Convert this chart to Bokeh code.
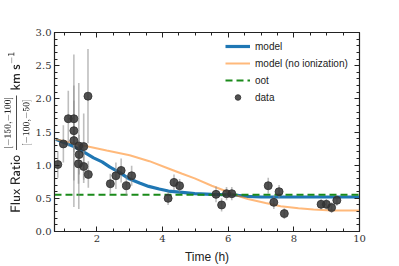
import math
from bokeh.plotting import figure
from bokeh.models import (LinearAxis, FixedTicker, Range1d, Legend, LegendItem,
                          ColumnDataSource, NumeralTickFormatter, CustomJSTickFormatter,
                          CDSView, IndexFilter)
from bokeh.embed import file_html
from bokeh.resources import INLINE

# data points
time_h = [0.81, 0.98, 1.13, 1.30, 1.30, 1.30, 1.45, 1.46, 1.44, 1.60, 1.60, 1.73, 1.74,
          2.41, 2.58, 2.74, 2.90, 3.06, 4.17, 4.35, 4.52,
          5.63, 5.80, 5.95, 6.11, 7.22, 7.39, 7.55, 7.71, 8.83, 8.99, 9.15, 9.31]
flux = [1.01, 1.32, 1.70, 1.70, 1.52, 1.37, 1.29, 1.16, 1.02, 0.98, 1.28, 2.04, 0.86,
        0.72, 0.84, 0.92, 0.69, 0.84, 0.50, 0.74, 0.69,
        0.56, 0.40, 0.57, 0.57, 0.69, 0.44, 0.60, 0.27, 0.41, 0.41, 0.36, 0.47]
flux_err = [0.20, 0.28, 0.42, 0.50, 1.15, 0.60, 0.95, 0.30, 0.30, 0.25, 0.50, 0.71, 0.20,
            0.15, 0.20, 0.18, 0.15, 0.15, 0.10, 0.12, 0.10,
            0.12, 0.10, 0.10, 0.10, 0.12, 0.10, 0.10, 0.08, 0.08, 0.08, 0.08, 0.08]

# model curves
model_t = [0.75, 1.0, 1.3, 1.66, 1.9, 2.16, 2.4, 2.66, 3.0, 3.3, 3.58, 3.9, 4.18, 4.6,
           4.98, 5.5, 6.19, 6.6, 7.0, 8.0, 9.0, 10.0]
model_y = [1.39, 1.34, 1.28, 1.18, 1.11, 1.05, 0.97, 0.90, 0.79, 0.73, 0.68, 0.64, 0.61,
           0.59, 0.57, 0.56, 0.55, 0.53, 0.52, 0.52, 0.52, 0.52]
noion_t = [0.75, 1.2, 1.66, 2.3, 3.0, 3.6, 4.18, 4.6, 4.98, 5.5, 5.98, 6.14, 6.6, 7.14,
           7.6, 8.14, 8.6, 9.15, 10.0]
noion_y = [1.39, 1.34, 1.29, 1.22, 1.15, 1.06, 0.95, 0.87, 0.80, 0.69, 0.60, 0.56, 0.49,
           0.43, 0.38, 0.35, 0.33, 0.315, 0.315]
oot_level = 0.555

x_ticks = [2, 4, 6, 8, 10]
x_minor = [1.0, 1.5, 2.5, 3.0, 3.5, 4.5, 5.0, 5.5, 6.5, 7.0, 7.5, 8.5, 9.0, 9.5]
y_ticks = [0.0, 0.5, 1.0, 1.5, 2.0, 2.5, 3.0]
y_minor = [round(i * 0.1, 1) for i in range(0, 31)]

p = figure(width=399, height=266, output_backend="svg", toolbar_location=None,
           x_range=Range1d(0.71, 10.0), y_range=Range1d(0.0, 3.0),
           min_border_left=50, min_border_right=40, min_border_top=32,
           min_border_bottom=34)
p.grid.visible = False
p.outline_line_color = "#222222"
p.outline_line_width = 1.2

src = ColumnDataSource(dict(x=time_h, y=flux,
                            lo=[a - b for a, b in zip(flux, flux_err)],
                            hi=[a + b for a, b in zip(flux, flux_err)]))

r_model = p.line(model_t, model_y, line_color="#1f77b4", line_width=3.2)
r_noion = p.line(noion_t, noion_y, line_color="#ff7f0e", line_alpha=0.55, line_width=2)
r_oot = p.line([0.71, 10.0], [oot_level, oot_level], line_color="#1a8a1a",
               line_width=2, line_dash="7 4")
r_err = p.segment(x0="x", y0="lo", x1="x", y1="hi", source=src, line_color="#888888",
                  line_alpha=0.55, line_width=1.6)
r_pts = p.scatter("x", "y", source=src, size=8, fill_color="#333333",
                  line_color="#333333", alpha=0.85)
# legend-only vertical error-bar glyph (filtered out of the plot itself)
r_legbar = p.scatter("x", "y", source=src, view=CDSView(filter=IndexFilter(indices=[])),
                     marker="dash", angle=math.pi / 2, size=13,
                     line_color="#888888", line_alpha=0.7, line_width=1.6)

serif = "DejaVu Serif"
sans = "Liberation Sans"


def style_axis(ax, show_labels=True):
    ax.major_tick_in = 5
    ax.major_tick_out = 0
    ax.minor_tick_in = 3
    ax.minor_tick_out = 0
    ax.axis_line_color = "#222222"
    ax.major_tick_line_color = "#222222"
    ax.minor_tick_line_color = "#222222"
    ax.major_label_text_font = serif
    ax.major_label_text_font_size = "10px"
    ax.major_label_text_color = "#333333"
    ax.axis_label_text_font = sans
    ax.axis_label_text_font_style = "normal"
    ax.axis_label_text_font_size = "12px"
    ax.axis_label_text_color = "#222222"
    if not show_labels:
        ax.formatter = CustomJSTickFormatter(code="return '';")
        ax.major_label_standoff = 0


p.xaxis.ticker = FixedTicker(ticks=x_ticks, minor_ticks=x_minor)
p.yaxis.ticker = FixedTicker(ticks=y_ticks, minor_ticks=y_minor)
p.yaxis.formatter = NumeralTickFormatter(format="0.0")
p.xaxis.axis_label = "Time (h)"
p.xaxis.axis_label_standoff = 5
p.xaxis.major_label_standoff = 3
p.yaxis.axis_label = (r"$$\mathsf{Flux\ Ratio}\ \frac{\scriptstyle [-150,-100]}"
                      r"{\scriptstyle [-100,-50]}\ \mathsf{km\ s^{-1}}$$")
p.yaxis.axis_label_standoff = 1
p.yaxis.major_label_standoff = 3
style_axis(p.xaxis[0])
style_axis(p.yaxis[0])
p.yaxis.axis_label_text_font_size = "10px"

top = LinearAxis(ticker=FixedTicker(ticks=x_ticks, minor_ticks=x_minor))
right = LinearAxis(ticker=FixedTicker(ticks=y_ticks, minor_ticks=y_minor))
style_axis(top, False)
style_axis(right, False)
p.add_layout(top, "above")
p.add_layout(right, "right")

legend = Legend(items=[
    LegendItem(label="model", renderers=[r_model]),
    LegendItem(label="model (no ionization)", renderers=[r_noion]),
    LegendItem(label="oot", renderers=[r_oot]),
    LegendItem(label="data", renderers=[r_legbar, r_pts]),
], location=(171, 127), border_line_color=None, background_fill_alpha=0,
    label_text_font=sans, label_text_font_size="10px", label_text_color="#222222",
    glyph_width=25, glyph_height=14, label_height=14, spacing=3, padding=5,
    label_standoff=5, margin=0)
p.add_layout(legend)

open("out.html", "w").write(file_html(p, INLINE))
